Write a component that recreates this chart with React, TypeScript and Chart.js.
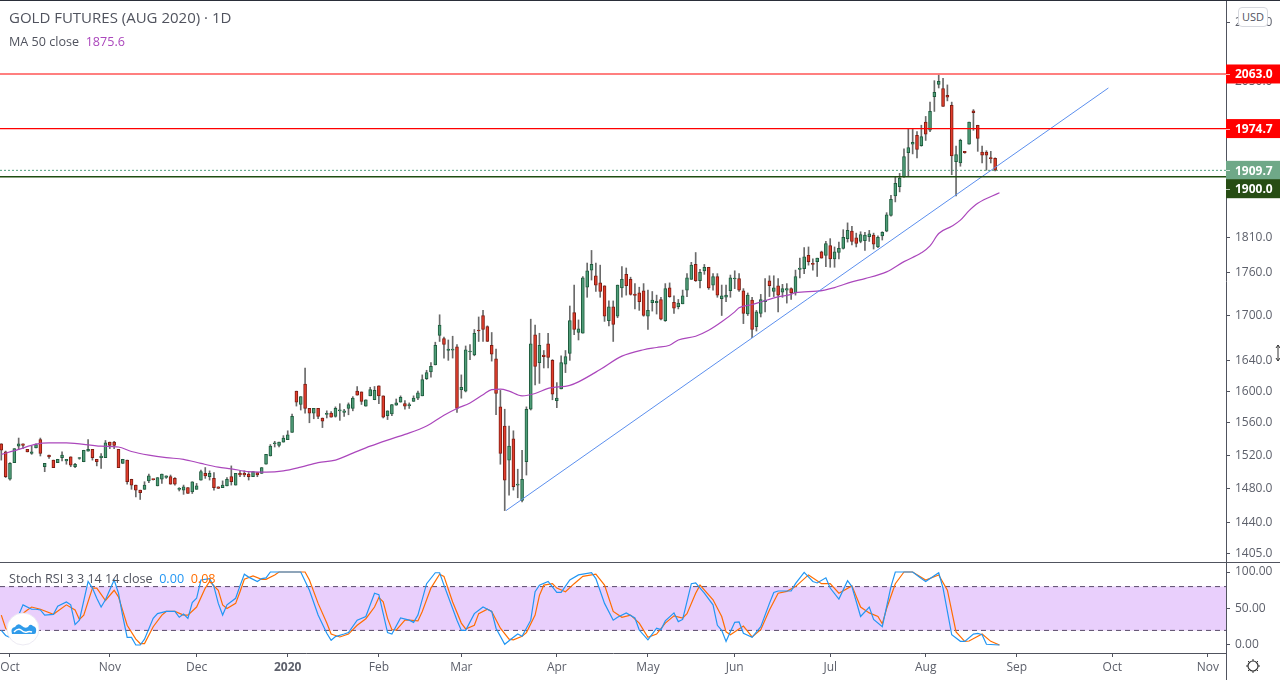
import React, { useEffect, useRef } from 'react';
import { Chart, registerables } from 'chart.js';

Chart.register(...registerables);

const FONT = '"Open Sans", sans-serif';

// daily OHLC, one entry per bar
const opens = [
  1534, 1524, 1491, 1511, 1531, 1534, 1527, 1522, 1529, 1539, 1506, 1520, 1514, 1511, 1517, 1513, 1518, 1506, 1516, 1512,
  1525, 1527, 1515, 1517, 1517, 1536, 1536, 1527, 1510, 1514, 1491, 1484, 1478, 1479, 1489, 1491, 1483, 1491, 1493, 1494,
  1492, 1479, 1478, 1481, 1476, 1479, 1490, 1498, 1494, 1492, 1482, 1481, 1483, 1494, 1484, 1498, 1498, 1497, 1494, 1499,
  1498, 1509, 1519, 1534, 1532, 1536, 1539, 1548, 1600, 1583, 1609, 1578, 1572, 1578, 1566, 1570.5, 1572, 1568, 1575, 1573,
  1578, 1578, 1600, 1599, 1581, 1594, 1589, 1607, 1594, 1569, 1571, 1582, 1586, 1584, 1581.5, 1587, 1591, 1594, 1616, 1625,
  1634, 1673, 1669, 1653, 1653.5, 1658, 1602, 1600, 1651, 1647, 1680, 1700, 1685, 1660, 1642, 1580, 1556, 1514, 1540, 1484,
  1466, 1512, 1577, 1674, 1637, 1647, 1662, 1640, 1588, 1603, 1635, 1649, 1704, 1677, 1676, 1739, 1763, 1755, 1745, 1741,
  1693, 1712, 1699, 1738, 1757, 1750, 1729.5, 1731, 1734, 1699, 1717.5, 1717.5, 1722, 1693, 1738, 1718, 1712, 1716, 1735, 1750,
  1771, 1748, 1762, 1767, 1742, 1754, 1723, 1725, 1734, 1750.5, 1751, 1734, 1702, 1721, 1685, 1703, 1719, 1748, 1733, 1741,
  1732, 1735, 1737, 1731, 1764, 1765, 1784, 1772, 1775, 1789, 1784, 1798, 1779, 1788, 1794, 1808, 1819, 1809, 1804, 1805,
  1811, 1813, 1796, 1812, 1819, 1842, 1871, 1885, 1900, 1937, 1950, 1964, 1948, 1985, 1972, 2026, 2046, 2039, 2028, 2012,
  1923, 1921, 1939, 1950, 2003, 1980, 1938, 1938, 1929.5, 1928,
];
const highs = [
  1534, 1525, 1511, 1528, 1541, 1534, 1527, 1531, 1534, 1541, 1510, 1520, 1514, 1515, 1524, 1515, 1518, 1510, 1517, 1526,
  1539, 1527, 1515, 1522, 1538, 1536, 1537, 1527, 1515, 1514, 1491, 1484, 1478, 1488, 1497, 1491, 1493, 1497, 1495, 1496,
  1493, 1481, 1484, 1481, 1488, 1486, 1502, 1505, 1501, 1499, 1482, 1489, 1493, 1507, 1498, 1501, 1501, 1499, 1500, 1499,
  1505, 1521, 1533, 1537, 1536, 1544, 1550, 1571, 1600, 1593, 1630, 1578, 1578, 1578, 1566, 1575, 1574, 1580, 1584, 1577,
  1585, 1593, 1606, 1599, 1589, 1605, 1606, 1607, 1594, 1575, 1583, 1590, 1594, 1588, 1585, 1594, 1600, 1621, 1627, 1637,
  1664, 1701, 1671, 1667, 1672, 1661, 1621, 1659, 1661, 1681, 1698, 1707, 1686, 1677, 1655, 1601, 1577, 1556, 1550, 1503,
  1526, 1580, 1695, 1687, 1676, 1653, 1676, 1641, 1611, 1646, 1653, 1713, 1742, 1694, 1754, 1773, 1791, 1773, 1770, 1741,
  1720, 1720, 1742, 1768, 1766, 1753, 1744, 1739, 1744, 1735, 1733, 1728, 1725, 1744, 1745, 1727, 1722, 1735, 1758, 1774,
  1788, 1764, 1771, 1767, 1758, 1758, 1742, 1742, 1756, 1762, 1758, 1737, 1731, 1725, 1707, 1729, 1751, 1755, 1755, 1751,
  1743, 1744, 1738, 1763, 1780, 1795, 1796, 1779, 1780, 1790, 1804, 1808, 1796, 1803, 1821, 1831, 1826, 1816, 1818, 1817,
  1820, 1816, 1812, 1818, 1846, 1872, 1900, 1905, 1943, 1974, 1974, 1970, 1980, 1994, 2017, 2052, 2061, 2056, 2045, 2017,
  1947, 1958, 1939, 1985, 2005, 1980, 1947, 1940, 1939, 1929,
];
const lows = [
  1514, 1493, 1490, 1511, 1527, 1528, 1524, 1521, 1529, 1519, 1500, 1516, 1505, 1511, 1513, 1509, 1506, 1505, 1515, 1512,
  1525, 1514, 1507, 1504, 1517, 1528, 1528, 1505, 1510, 1485, 1479, 1470, 1467, 1479, 1487, 1490, 1483, 1486, 1492, 1485,
  1484, 1477, 1473, 1474, 1474, 1479, 1490, 1492, 1490, 1478, 1480, 1481, 1483, 1484, 1484, 1494, 1494, 1490, 1494, 1494,
  1498, 1509, 1519, 1530, 1530, 1536, 1539, 1548, 1581, 1576, 1572, 1560, 1565, 1565, 1554, 1566, 1567, 1567, 1563, 1568,
  1570, 1575, 1595, 1583, 1581, 1594, 1589, 1584, 1566, 1564, 1569, 1582, 1586, 1577, 1578, 1587, 1589, 1594, 1615, 1618,
  1634, 1665, 1643, 1640, 1643, 1573, 1591, 1599, 1641, 1646, 1665, 1665, 1665, 1639, 1570, 1509, 1454, 1472, 1478, 1469,
  1464, 1496, 1576, 1608, 1610, 1630, 1630, 1589, 1579, 1603, 1624, 1640, 1674, 1667, 1676, 1725, 1749, 1733, 1725, 1692,
  1686, 1665, 1697, 1725, 1728, 1728, 1709, 1707, 1699, 1681, 1706, 1702, 1694, 1692, 1725, 1703, 1709, 1716, 1726, 1750,
  1747, 1738, 1757, 1736, 1735, 1725, 1700, 1719, 1725, 1737, 1733, 1689, 1700, 1670, 1679, 1698, 1705, 1726, 1726, 1705,
  1725, 1717, 1722, 1728, 1752, 1758, 1770, 1763, 1754, 1780, 1768, 1767, 1767, 1779, 1793, 1803, 1799, 1796, 1802, 1791,
  1804, 1793, 1795, 1806, 1818, 1841, 1862, 1877, 1899, 1900, 1935, 1929, 1947, 1956, 1970, 2002, 2040, 2010, 2019, 1903,
  1871, 1916, 1936, 1950, 1972, 1939, 1921, 1910, 1921, 1909,
];
const closes = [
  1526, 1494, 1510, 1528, 1534, 1532, 1524, 1524, 1533, 1522, 1510, 1518, 1505, 1515, 1520, 1515, 1508, 1509, 1516.5, 1526,
  1527, 1517, 1512, 1519, 1535, 1532, 1532, 1505, 1515, 1488, 1484, 1478, 1475, 1484, 1495, 1490.5, 1493, 1497, 1495, 1485,
  1485, 1479.5, 1482, 1474, 1488, 1483, 1500, 1495, 1498, 1481, 1480, 1484, 1491, 1488, 1498, 1496, 1496, 1494, 1500, 1496,
  1505, 1521, 1531, 1534.5, 1536, 1541, 1545, 1568, 1586, 1593, 1578, 1572, 1578, 1568, 1562, 1571, 1567, 1578, 1576, 1575,
  1583, 1591, 1595, 1587, 1589, 1602, 1601, 1594, 1567, 1575, 1583, 1585, 1592, 1581, 1583, 1591, 1598, 1615, 1624, 1632,
  1660, 1687, 1661, 1655, 1654.5, 1578, 1605, 1654, 1652, 1676, 1679, 1681, 1665, 1648, 1597, 1522, 1490, 1531, 1482, 1484.5,
  1491, 1577, 1662, 1632, 1660, 1645, 1644, 1596, 1591, 1637, 1645, 1693, 1681, 1682, 1752, 1762, 1771, 1742, 1733, 1699,
  1712, 1688, 1742, 1750, 1741, 1729, 1727.5, 1719, 1700, 1707, 1721, 1719.5, 1695, 1737, 1726, 1710, 1717, 1727, 1752, 1770,
  1748, 1760, 1767, 1738, 1754, 1728, 1727, 1728, 1752, 1751, 1735, 1703, 1728, 1681, 1705, 1722, 1721, 1741, 1738, 1728,
  1737, 1737, 1731, 1754, 1766, 1782, 1775, 1771, 1780, 1780, 1801, 1779, 1789, 1794, 1810, 1820, 1804, 1801, 1814, 1813,
  1815, 1800, 1810, 1817, 1843, 1866, 1890, 1898, 1931, 1945, 1953, 1942, 1962, 1966, 2002, 2033, 2051, 2010, 2025, 1932,
  1934, 1956, 1937, 1985, 2000, 1959, 1933, 1933, 1927.5, 1910,
];

// MA 50 close, sampled along the curve
const maBars = [
  0, 4, 8, 11, 15, 23, 27, 30, 34, 38, 42, 46, 50, 53, 57, 61, 65, 69, 73, 77, 81, 85, 89, 93, 98, 102, 105, 108, 111, 113, 115, 117,
  120, 123, 126, 131, 133, 138, 143, 148, 151, 154, 156, 160, 163, 166, 169, 170, 173, 175, 179, 182, 183, 188, 192, 196, 199, 204,
  208, 212, 214, 216, 219, 221, 223, 225, 230,
];
const maValues = [
  1521, 1527, 1533.5, 1535, 1535, 1531, 1530, 1524.5, 1520, 1517, 1515, 1510, 1505.5, 1503.5, 1500, 1499.5, 1501, 1505.5, 1511, 1514,
  1522.5, 1531, 1538.5, 1545.5, 1556, 1569.5, 1578, 1585, 1595.5, 1602, 1602.5, 1600, 1594, 1597, 1603.5, 1607.5, 1612, 1628, 1645.5,
  1654, 1657, 1660, 1667, 1672, 1680, 1691.5, 1705, 1710.5, 1715, 1718.5, 1725.5, 1729, 1731.5, 1733.5, 1738.5, 1746.5, 1751, 1760.5,
  1775, 1787.5, 1797.5, 1815.5, 1826, 1835, 1849, 1860, 1875.6,
];

// Stoch RSI
const kBars = [
  0, 1, 2, 3, 4, 5, 7, 8, 9, 10, 12, 13, 15, 16, 17, 18, 20, 21, 22, 23, 24, 26, 27, 28, 29, 30, 31, 32, 33, 35, 36, 38, 40, 41, 42, 43, 44, 45, 46,
  48, 49, 50, 51, 52, 54, 55, 56, 57, 59, 60, 61, 62, 69, 71, 73, 75, 76, 77, 79, 80, 82, 84, 86, 87, 88, 89, 90, 92, 94, 95, 96, 98, 100, 101, 102,
  105, 106, 107, 109, 111, 113, 114, 116, 118, 119, 120, 122, 123, 124, 126, 128, 129, 131, 133, 136, 137, 139, 141, 142, 144, 146, 147, 149, 151,
  152, 153, 155, 156, 157, 159, 160, 162, 164, 165, 166, 167, 168, 169, 170, 171, 173, 175, 177, 178, 179, 182, 183, 185, 187, 188, 190, 191, 193,
  195, 196, 198, 200, 201, 203, 205, 206, 210, 212, 213, 216, 217, 219, 221, 222, 224, 225, 226, 227, 230,
];
const kValues = [
  20, 13, 10.5, 8, 41, 55, 49, 49, 48, 41, 42, 53, 59, 55, 28, 34, 87, 78, 64, 52, 62, 89, 71, 39, 10.5, 10.5, 0, 0, 8, 36.5, 43, 46, 46, 38, 42.5, 36.5, 58, 64, 89,
  91, 80, 57, 41, 55, 64, 81, 97, 93, 87, 91, 92, 100, 100, 75, 41, 16, 6.5, 11.5, 15, 17, 34, 39, 71, 69, 43, 17, 15, 37, 34, 31, 41, 84, 99, 99, 82,
  34, 20, 20, 43, 52, 46, 23, 1, 10.5, 15, 12, 34, 73, 82, 87, 72, 72, 89, 96, 99, 91, 57, 34, 38, 44, 37, 20.5, 7, 23,
  21, 33, 44, 32, 35, 84, 85, 71, 55, 27, 20, 5, 18, 31, 31.5, 16, 10.5, 25, 57, 72, 74, 74, 84, 99.5, 87, 85, 92, 78, 63,
  88, 80, 39, 52, 35, 25, 80, 100, 100, 91, 87, 99, 78, 14, 5, 5, 15, 16, 14, 1, 0,
];
const dBars = [
  0, 1, 2, 4, 6, 7, 9, 12, 15, 17, 18, 19, 21, 22, 24, 26, 27, 29, 31, 32, 33, 35, 37, 38, 40, 42, 43, 45, 47, 48, 50, 51, 52, 54, 55, 56, 58, 60, 61,
  63, 64, 70, 71, 73, 75, 76, 78, 80, 82, 84, 86, 87, 88, 89, 90, 91, 93, 94, 96, 97, 99, 101, 102, 104, 106, 107, 109, 110, 112, 113, 115, 117, 118,
  120, 121, 123, 124, 125, 127, 128, 130, 132, 134, 137, 139, 141, 143, 145, 147, 149, 151, 153, 155, 157, 158, 160, 161, 164, 166, 167, 168, 171,
  173, 175, 177, 179, 181, 183, 186, 189, 191, 193, 196, 198, 200, 202, 203, 204, 206, 208, 210, 213, 216, 218, 220, 222, 223, 226, 228, 230,
];
const dValues = [
  41, 23, 17, 39, 48, 52, 49, 42, 55, 48, 35, 41, 78, 78, 61, 75, 66, 27, 8, 2, 2, 25, 41, 46, 46, 41, 41, 52, 78, 87, 75, 55, 50, 57, 73, 90, 94.5, 90, 90,
  96, 100, 100, 89, 57, 30, 15, 11, 15, 27, 36, 52, 65, 59, 36.5, 21, 20.5, 34, 34, 33, 46, 78, 97, 94, 59, 30, 22, 27, 43, 49, 46, 23, 8, 7,
  12, 17, 41, 68, 82, 84, 78, 73, 84, 94, 97, 82, 46, 38, 41, 30, 10.5, 15, 30, 40, 37, 43, 71, 82, 62, 39, 18, 14, 26,
  11, 21, 48, 71, 73.5, 80, 96, 84, 84, 71, 81, 52, 44, 39, 29, 50, 84, 100, 100, 89, 96, 75, 18, 5, 5.5, 15, 5, 0.08,
];

const priceTicks = [2150, 2050, 1810, 1760, 1700, 1640, 1600, 1560, 1520, 1480, 1440, 1405];
const stochTicks = [0, 50, 100];
const tagPrices = [2063, 1974.7, 1909.7, 1900];
const tagFills = ['#ff0000', '#ff0000', '#6fa888', '#274d14'];
const timeBars = [2, 25, 45, 66, 87, 106, 128, 149, 169, 191, 213, 234, 256, 278];
const timeLabels = ['Oct', 'Nov', 'Dec', '2020', 'Feb', 'Mar', 'Apr', 'May', 'Jun', 'Jul', 'Aug', 'Sep', 'Oct', 'Nov'];
// drawn trendline, start and end as bar / price
const trendBars = [116.3, 255.1];
const trendPrices = [1454, 2040];

const X_MIN = -0.3;
const X_MAX = 282.2;
const AXIS_GREY = '#50535e';
const LABEL_GREY = '#5d606b';

const span = (y: number) => [{ x: X_MIN, y }, { x: X_MAX, y }];
const isUp = (i: number) => closes[i] >= opens[i];

// chart.js reserves room for half a tick label at the ends, we want the plot edge to edge
const noScalePadding = (s: any) => {
  s.paddingTop = 0;
  s.paddingBottom = 0;
  s.paddingLeft = 0;
  s.paddingRight = 0;
};

// price tags over the right axis, last one gets pushed below the one above it
const priceTags = {
  id: 'priceTags',
  afterDraw(chart: any) {
    const { ctx, scales, chartArea } = chart;
    tagPrices.forEach((p, i) => {
      const y = scales.y.getPixelForValue(p) + (i === 3 ? 12 : 0);
      ctx.save();
      ctx.fillStyle = tagFills[i];
      ctx.fillRect(chartArea.right, y - 9.5, 54, 19);
      ctx.strokeStyle = 'rgba(255,255,255,0.7)';
      ctx.beginPath();
      ctx.moveTo(chartArea.right, Math.round(y) + 0.5);
      ctx.lineTo(chartArea.right + 4, Math.round(y) + 0.5);
      ctx.stroke();
      ctx.fillStyle = '#fff';
      ctx.font = `bold 12px ${FONT}`;
      ctx.textBaseline = 'middle';
      ctx.fillText(p.toFixed(1), chartArea.right + 9, y + 1);
      ctx.restore();
    });
  },
};

function PriceChart() {
  const ref = useRef<HTMLCanvasElement>(null);
  useEffect(() => {
    if (!ref.current) return;
    const chart = new Chart(ref.current, {
      type: 'bar',
      data: {
        datasets: [
          {
            type: 'bar',
            data: opens.map((_, i) => ({ x: i, y: [lows[i], highs[i]] })) as any,
            backgroundColor: '#6a6a6a',
            barThickness: 1,
            grouped: false,
            order: 5,
          },
          {
            type: 'bar',
            data: opens.map((o, i) => ({ x: i, y: [o, closes[i]] })) as any,
            backgroundColor: opens.map((_, i) => (isUp(i) ? '#4f9d78' : '#e23d2c')),
            borderColor: opens.map((_, i) => (isUp(i) ? '#1f5c3e' : '#7d1d13')),
            borderWidth: 1,
            borderSkipped: false,
            barThickness: 3,
            minBarLength: 1,
            grouped: false,
            order: 4,
          },
          {
            type: 'line',
            data: maBars.map((b, i) => ({ x: b, y: maValues[i] })),
            borderColor: '#ab47bc',
            borderWidth: 1.2,
            pointRadius: 0,
            cubicInterpolationMode: 'monotone',
            order: 3,
          },
          {
            type: 'line',
            data: trendBars.map((b, i) => ({ x: b, y: trendPrices[i] })),
            borderColor: '#5b8fee',
            borderWidth: 1,
            pointRadius: 0,
            order: 2,
          },
          {
            type: 'line',
            data: span(tagPrices[0]),
            borderColor: '#ff0000',
            borderWidth: 1.2,
            pointRadius: 0,
            order: 1,
          },
          {
            type: 'line',
            data: span(tagPrices[1]),
            borderColor: '#ff0000',
            borderWidth: 1.2,
            pointRadius: 0,
            order: 1,
          },
          {
            type: 'line',
            data: span(tagPrices[2]),
            borderColor: '#4f9d7a',
            borderWidth: 1,
            borderDash: [2, 2],
            pointRadius: 0,
            order: 1,
          },
          {
            type: 'line',
            data: span(tagPrices[3]),
            borderColor: '#1f4d10',
            borderWidth: 1.5,
            pointRadius: 0,
            order: 1,
          },
        ] as any,
      },
      options: {
        responsive: false,
        animation: false,
        events: [],
        layout: { padding: 0 },
        plugins: { legend: { display: false }, tooltip: { enabled: false } },
        scales: {
          x: { type: 'linear', display: false, min: X_MIN, max: X_MAX, offset: false, grid: { offset: false } },
          y: {
            type: 'logarithmic',
            position: 'right',
            min: 1395.3,
            max: 2189,
            beginAtZero: false,
            afterFit: (s: any) => { s.width = 54; noScalePadding(s); },
            afterBuildTicks: (s: any) => { s.ticks = priceTicks.map(value => ({ value })); },
            border: { color: AXIS_GREY },
            grid: { drawOnChartArea: false, tickLength: 4, color: AXIS_GREY },
            ticks: {
              autoSkip: false,
              padding: 5,
              color: LABEL_GREY,
              font: { family: FONT, size: 12 },
              callback: (v: any) => Number(v).toFixed(1),
            },
          },
        },
      } as any,
      plugins: [priceTags],
    });
    return () => chart.destroy();
  }, []);
  return <canvas ref={ref} width={1280} height={562} style={{ position: 'absolute', left: 0, top: 0 }} />;
}

function StochChart() {
  const ref = useRef<HTMLCanvasElement>(null);
  useEffect(() => {
    if (!ref.current) return;
    const band = { borderColor: '#5a4a6a', borderWidth: 1, borderDash: [5, 4], pointRadius: 0 };
    const chart = new Chart(ref.current, {
      type: 'line',
      data: {
        datasets: [
          { ...band, data: span(80), fill: '+1', backgroundColor: '#e9cffc', order: 4 },
          { ...band, data: span(20), order: 3 },
          {
            data: dBars.map((b, i) => ({ x: b, y: dValues[i] })),
            borderColor: '#ff6d00',
            borderWidth: 1.2,
            pointRadius: 0,
            order: 2,
          },
          {
            data: kBars.map((b, i) => ({ x: b, y: kValues[i] })),
            borderColor: '#2196f3',
            borderWidth: 1.2,
            pointRadius: 0,
            order: 1,
          },
        ] as any,
      },
      options: {
        responsive: false,
        animation: false,
        events: [],
        layout: { padding: 0 },
        plugins: { legend: { display: false }, tooltip: { enabled: false } },
        scales: {
          x: {
            type: 'linear',
            min: X_MIN,
            max: X_MAX,
            afterFit: (s: any) => { s.height = 27; noScalePadding(s); },
            afterBuildTicks: (s: any) => { s.ticks = timeBars.map(value => ({ value })); },
            border: { color: AXIS_GREY },
            grid: { drawOnChartArea: false, tickLength: 4, color: AXIS_GREY },
            ticks: {
              autoSkip: false,
              maxRotation: 0,
              padding: 3,
              color: LABEL_GREY,
              font: (ctx: any) => ({
                family: FONT,
                size: 12,
                weight: ctx.tick && ctx.tick.value === 66 ? 'bold' : 'normal',
              }),
              callback: (v: any) => timeLabels[timeBars.indexOf(Number(v))],
            },
          },
          y: {
            position: 'right',
            min: -10.96,
            max: 113.7,
            afterFit: (s: any) => { s.width = 54; noScalePadding(s); },
            afterBuildTicks: (s: any) => { s.ticks = stochTicks.map(value => ({ value })); },
            border: { color: AXIS_GREY },
            grid: { drawOnChartArea: false, tickLength: 4, color: AXIS_GREY },
            ticks: {
              autoSkip: false,
              padding: 5,
              color: LABEL_GREY,
              font: { family: FONT, size: 12 },
              callback: (v: any) => Number(v).toFixed(2),
            },
          },
        },
      } as any,
    });
    return () => chart.destroy();
  }, []);
  return <canvas ref={ref} width={1280} height={118} style={{ position: 'absolute', left: 0, top: 562 }} />;
}

const text = (left: number, top: number, size: number, color: string): React.CSSProperties => ({
  position: 'absolute',
  left,
  top,
  fontSize: size,
  lineHeight: '18px',
  color,
  fontFamily: FONT,
  whiteSpace: 'pre',
});

export default function App() {
  return (
    <div style={{ position: 'fixed', left: 0, top: 0, width: 1280, height: 680, background: '#fff', overflow: 'hidden' }}>
      <PriceChart />
      <StochChart />
      <div style={{ position: 'absolute', left: 0, top: 0, width: 1280, height: 1, background: '#2a2e39' }} />
      <div style={{ position: 'absolute', left: 0, top: 562, width: 1280, height: 1, background: AXIS_GREY }} />
      <div style={{ position: 'absolute', left: 1226, top: 653, width: 1, height: 27, background: AXIS_GREY }} />

      <div style={text(9, 8, 15, '#50535e')}>GOLD FUTURES (AUG 2020) · 1D</div>
      <div style={text(9, 33, 12.6, '#50535e')}>
        MA 50 close  <span style={{ color: '#ab47bc' }}>1875.6</span>
      </div>
      <div style={text(9, 570, 12.6, '#50535e')}>
        Stoch RSI 3 3 14 14 close  <span style={{ color: '#2196f3' }}>0.00</span>  <span style={{ color: '#ff6d00' }}>0.08</span>
      </div>

      <div
        style={{
          ...text(1238, 7, 11, '#50535e'),
          width: 30,
          height: 20,
          lineHeight: '18px',
          textAlign: 'center',
          background: '#fff',
          border: '1px solid #d6d8de',
          borderRadius: 4,
          boxSizing: 'border-box',
        }}
      >
        USD
      </div>

      <svg width={40} height={40} style={{ position: 'absolute', left: 3, top: 609 }}>
        <circle cx={20} cy={20} r={16} fill="#fff" stroke="#eceaf2" />
        <path
          d="M9 25 q-2 -6 3 -7 q3 -5 7 -1 q3 3 6 1 q2 -4 5 -1 q4 1 3 6 q0 2 -2 2 l-20 0 q-2 0 -2 0 z"
          fill="#2f9bea"
        />
        <path d="M11 23 q4 -4 7 -2 q3 3 6 2 q2 -1 5 0" fill="none" stroke="#fff" strokeWidth={1.5} />
      </svg>

      <svg width={20} height={20} style={{ position: 'absolute', left: 1243, top: 656 }}>
        <circle cx={10} cy={10} r={5} fill="none" stroke="#333" strokeWidth={1.2} />
        <path d="M10 3v2M10 15v2M3 10h2M15 10h2M5 5l1.5 1.5M13.5 13.5L15 15M15 5l-1.5 1.5M6.5 13.5L5 15" stroke="#333" />
      </svg>

      <svg width={6} height={18} style={{ position: 'absolute', left: 1275, top: 344 }}>
        <path d="M3 1v16M1 4l2 -3 2 3M1 14l2 3 2 -3" fill="none" stroke="#333" />
      </svg>
    </div>
  );
}
